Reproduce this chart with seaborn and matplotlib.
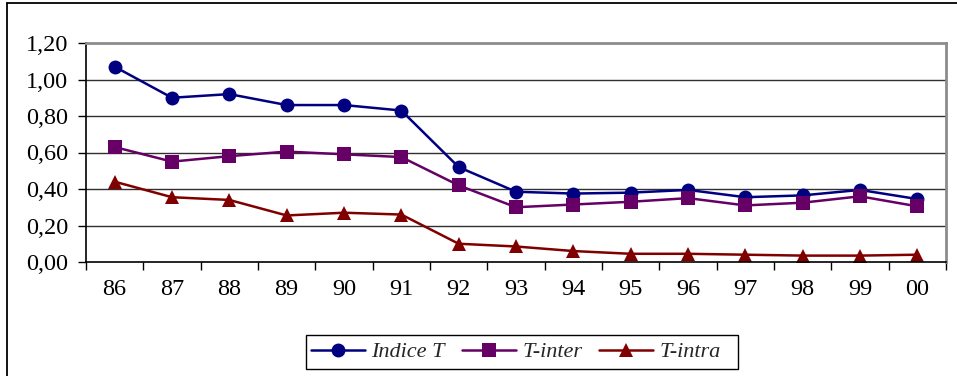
import matplotlib
matplotlib.use("Agg")
import matplotlib.pyplot as plt
from matplotlib.lines import Line2D
from matplotlib.patches import Rectangle
from matplotlib.ticker import FixedLocator, FuncFormatter
import seaborn as sns
import pandas as pd

years = ["86", "87", "88", "89", "90", "91", "92", "93", "94", "95", "96", "97", "98", "99", "00"]
indice_t = [1.07, 0.90, 0.92, 0.86, 0.86, 0.83, 0.52, 0.385, 0.375, 0.38, 0.395, 0.355, 0.365, 0.395, 0.345]
t_inter = [0.63, 0.55, 0.58, 0.605, 0.59, 0.575, 0.42, 0.30, 0.315, 0.33, 0.35, 0.31, 0.325, 0.36, 0.305]
t_intra = [0.44, 0.355, 0.34, 0.255, 0.27, 0.26, 0.10, 0.085, 0.06, 0.045, 0.045, 0.04, 0.035, 0.035, 0.04]
series_names = ["Indice T", "T-inter", "T-intra"]
colors = {"Indice T": "#000080", "T-inter": "#660066", "T-intra": "#800000"}
marker_map = {"Indice T": "o", "T-inter": "s", "T-intra": "^"}

df = pd.concat([
    pd.DataFrame({"year": years, "value": vals, "series": name})
    for name, vals in zip(series_names, [indice_t, t_inter, t_intra])
], ignore_index=True)

sns.set_theme(style="white")
plt.rcParams["font.family"] = ["Liberation Serif", "DejaVu Serif"]

W, H = 957, 376
fig = plt.figure(figsize=(W / 100, H / 100), dpi=100)
ax = fig.add_axes([86 / W, 1 - 262 / H, (946 - 86) / W, (262 - 43) / H])

sns.lineplot(data=df, x="year", y="value", hue="series", style="series",
             hue_order=series_names, style_order=series_names,
             palette=colors, markers=marker_map, dashes=False,
             markersize=10, linewidth=1.8, markeredgewidth=0,
             legend=False, ax=ax, sort=False)

ax.set_xlim(-0.5, len(years) - 0.5)
ax.set_ylim(0, 1.2)
ax.set_xlabel("")
ax.set_ylabel("")

# horizontal gridlines
yt = [0.0, 0.2, 0.4, 0.6, 0.8, 1.0, 1.2]
ax.set_yticks(yt)
ax.yaxis.set_major_formatter(FuncFormatter(lambda v, p: f"{v:.2f}".replace(".", ",")))
for v in yt[1:-1]:
    ax.axhline(v, color="#303030", lw=1.0, zorder=0.5)

# category labels centered, ticks at category boundaries
ax.set_xticks(range(len(years)))
ax.set_xticklabels(years)
ax.xaxis.set_minor_locator(FixedLocator([i - 0.5 for i in range(len(years) + 1)]))
ax.tick_params(axis="x", which="major", length=0, pad=12.5, labelsize=17.5, colors="black")
ax.tick_params(axis="x", which="minor", length=6, width=1.0, color="black", direction="out", bottom=True)
ax.tick_params(axis="y", which="major", length=6, width=1.0, color="black", direction="out",
               left=True, pad=7, labelsize=17.5, labelcolor="black")

for side in ["left", "bottom"]:
    ax.spines[side].set_color("black")
    ax.spines[side].set_linewidth(1.2)
for side in ["top", "right"]:
    ax.spines[side].set_color("#8c8c8c")
    ax.spines[side].set_linewidth(2.0)

# legend entries, with its own box drawn separately
handles = [Line2D([0], [0], color=colors[n], marker=marker_map[n], markersize=10,
                  markeredgewidth=0, linewidth=1.8) for n in series_names]
leg = fig.legend(handles, series_names, loc="center left", bbox_to_anchor=(311 / W, 1 - 352 / H),
                 ncol=3, frameon=False, handlelength=2.45, handletextpad=0.27,
                 columnspacing=0.75, borderpad=0, borderaxespad=0,
                 prop={"family": ["Liberation Serif"], "style": "italic", "size": 16})
fig.add_artist(Rectangle((306 / W, 1 - 369 / H), (738 - 306) / W, (369 - 335) / H,
                         transform=fig.transFigure, fill=False, edgecolor="black", lw=1.0))

# outer chart frame
fig.add_artist(Line2D([7 / W, 7 / W], [0, 1 - 3 / H], transform=fig.transFigure, color="black", lw=1.3))
fig.add_artist(Line2D([7 / W, 1], [1 - 3 / H, 1 - 3 / H], transform=fig.transFigure, color="black", lw=1.3))

fig.savefig("out.png", dpi=100)
